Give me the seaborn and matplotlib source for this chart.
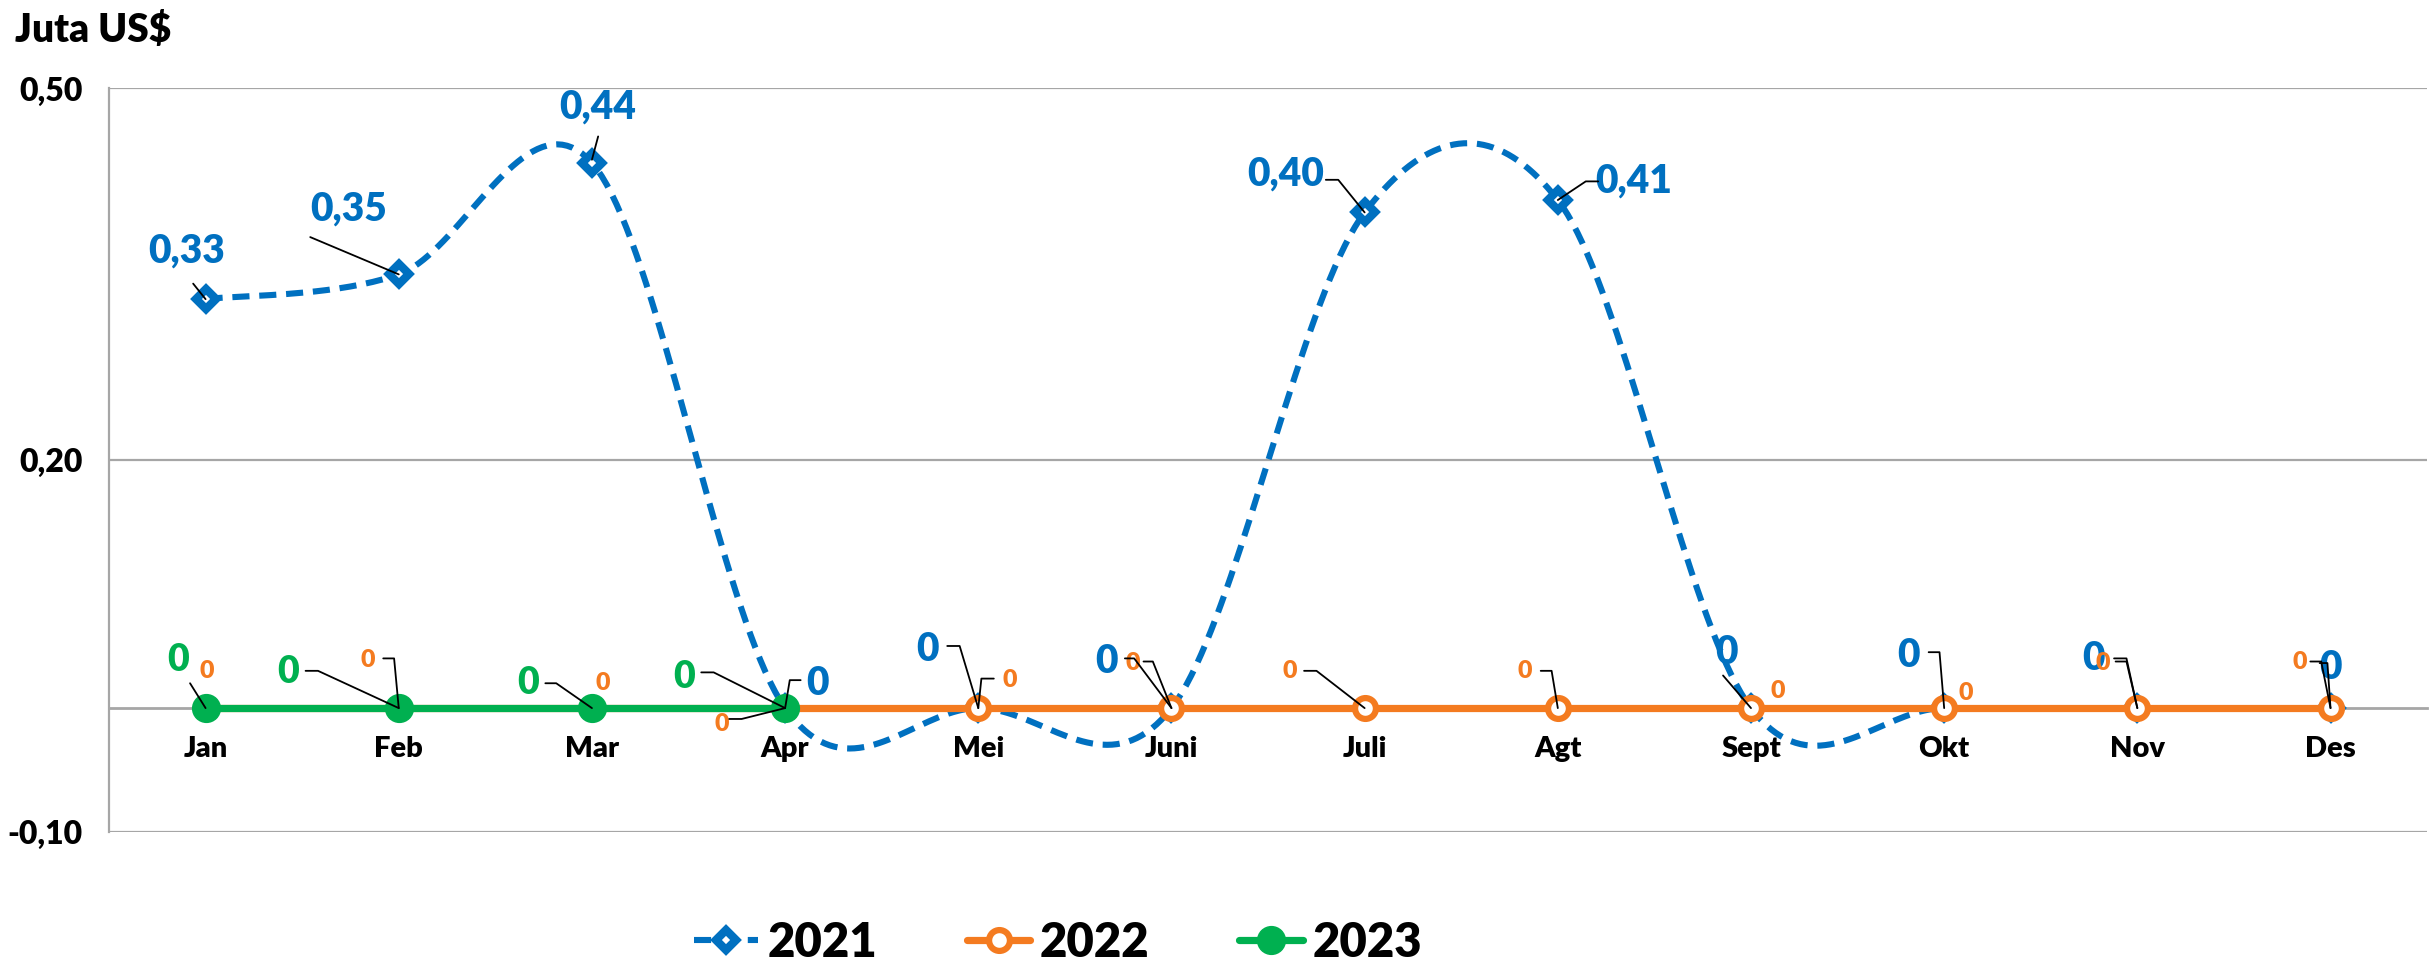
import numpy as np
import matplotlib
matplotlib.use('Agg')
import matplotlib.pyplot as plt
import seaborn as sns
from matplotlib.lines import Line2D
from matplotlib.transforms import IdentityTransform

# ---------------- data ----------------
months = ['Jan', 'Feb', 'Mar', 'Apr', 'Mei', 'Juni', 'Juli', 'Agt', 'Sept', 'Okt', 'Nov', 'Des']
v2021 = [0.33, 0.35, 0.44, 0, 0, 0, 0.40, 0.41, 0, 0, 0, 0]
v2022 = [0, 0, 0, 0, 0, 0, 0, 0, 0, 0, 0, 0]
v2023 = [0, 0, 0, 0]
series_names = ['2021', '2022', '2023']
yticks = [-0.10, 0.20, 0.50]
ytick_labels = ['-0,10', '0,20', '0,50']
unit_label = 'Juta US$'

BLUE = '#0070C0'
ORANGE = '#F47B20'
GREEN = '#00B050'
GRID = '#A6A6A6'
W = 'heavy'

sns.set_theme(style='white')
plt.rcParams['font.family'] = ['Lato', 'DejaVu Sans']
plt.rcParams['font.weight'] = W

S = 2435 / 1568.0  # reference-view px -> output px


def fmt(v):
    return '0' if v == 0 else f'{v:.2f}'.replace('.', ',')


def excel_smooth(y, n=40):
    pts = np.column_stack([np.arange(len(y)), y]).astype(float)
    N = len(pts)
    out = []
    t = np.linspace(0, 1, n)[:, None]
    for i in range(N - 1):
        p0 = pts[max(i - 1, 0)]
        p1 = pts[i]
        p2 = pts[i + 1]
        p3 = pts[min(i + 2, N - 1)]
        c1 = p1 + (p2 - p0) / 6
        c2 = p2 - (p3 - p1) / 6
        seg = (1 - t) ** 3 * p1 + 3 * (1 - t) ** 2 * t * c1 + 3 * (1 - t) * t ** 2 * c2 + t ** 3 * p2
        out.append(seg if i == 0 else seg[1:])
    return np.vstack(out)


fig = plt.figure(figsize=(24.35, 9.65), dpi=100)
ax = fig.add_axes([0.04476, 0.1378, 0.9520, 0.7705])

x_all = np.arange(len(months))

DIA = dict(marker='D', markersize=10.5, markerfacecolor='white', markeredgecolor=BLUE, markeredgewidth=6)
RING = dict(marker='o', markersize=15, markerfacecolor='white', markeredgecolor=ORANGE, markeredgewidth=4.5)
DOT = dict(marker='o', markersize=20, markerfacecolor=GREEN, markeredgecolor=GREEN, markeredgewidth=1)
DASH = (0, (2.8, 1.6))

# 2021 smoothed dashed line + diamond markers
sm = excel_smooth(v2021)
sns.lineplot(x=sm[:, 0], y=sm[:, 1], ax=ax, sort=False, estimator=None,
             color=BLUE, lw=4.4, linestyle=DASH, zorder=3)
sns.lineplot(x=x_all, y=v2021, ax=ax, sort=False, estimator=None, color=BLUE,
             linestyle='', zorder=4, **DIA)

# 2022 line
sns.lineplot(x=x_all, y=v2022, ax=ax, sort=False, estimator=None, color=ORANGE,
             lw=5.2, zorder=5, **RING)

# 2023 line
x23 = np.arange(len(v2023))
sns.lineplot(x=x23, y=v2023, ax=ax, sort=False, estimator=None, color=GREEN,
             lw=5.2, zorder=6, **DOT)

# axes styling
ax.set_xlim(-0.5, len(months) - 0.5)
ax.set_ylim(-0.10, 0.50)
ax.set_yticks(yticks)
ax.set_yticklabels(ytick_labels)
ax.set_xticks(x_all)
ax.set_xticklabels(months)
ax.set_xticks(np.arange(-0.5, len(months) + 0.5, 1), minor=True)
ax.tick_params(axis='x', which='major', length=0, pad=20, labelsize=21, labelcolor='black')
ax.tick_params(axis='x', which='minor', length=9, width=1.5, color=GRID, direction='out')
ax.tick_params(axis='y', which='major', length=9, width=1.5, color=GRID, direction='out',
               pad=10, labelsize=23, labelcolor='black')
for lab in ax.get_xticklabels() + ax.get_yticklabels():
    lab.set_fontweight(W)
ax.yaxis.grid(True, color=GRID, lw=1.6)
ax.xaxis.grid(False)
ax.set_axisbelow(True)
for s in ['top', 'right']:
    ax.spines[s].set_visible(False)
ax.spines['left'].set_color(GRID)
ax.spines['left'].set_linewidth(1.6)
ax.spines['bottom'].set_position(('data', 0))
ax.spines['bottom'].set_color(GRID)
ax.spines['bottom'].set_linewidth(2.0)
ax.spines['bottom'].set_zorder(1)
ax.set_xlabel('')
ax.set_ylabel('')

fig.text(15 / 2435, 1 - 31 / 965, unit_label, fontsize=28, fontweight=W,
         ha='left', va='center', color='black')

# ---------------- data labels (layout offsets in reference px, y down) ----------------
lab2021 = [
    ((-12, -31), [(-8, -10), (0, 0)]),
    ((-32, -42), [(-57, -24), (0, 0)]),
    ((4, -36), [(4, -17), (0, -2)]),
    ((21, -16), [(10, -18), (3, -18), (0, 0)]),
    ((-33, -38), [(-20, -40), (-12, -40), (0, 0)]),
    ((-42, -30), [(-30, -32), (-24, -32), (0, 0)]),
    ((-51, -25), [(-25, -21), (-17, -21), (0, 0)]),
    ((49, -12), [(26, -12), (18, -12), (0, 0)]),
    ((-16, -36), [(-18, -21), (0, 0)]),
    ((-23, -34), [(-10, -36), (-3, -36), (0, 0)]),
    ((-28, -32), [(-15, -32), (-7, -32), (0, 0)]),
    ((0, -26), [(-7, -29), (-2, -29), (0, 0)]),
]
lab2022 = [
    ((1, -24), None),
    ((-20, -31), [(-10, -32), (-3, -32), (0, 0)]),
    ((7, -16), None),
    ((-41, 10), [(-36, 7), (-28, 7), (0, 0)]),
    ((20, -18), [(10, -19), (2, -19), (0, 0)]),
    ((-25, -29), [(-18, -30), (-12, -30), (0, 0)]),
    ((-48, -24), [(-39, -24), (-31, -24), (0, 0)]),
    ((-21, -24), [(-11, -24), (-4, -24), (0, 0)]),
    ((17, -11), None),
    ((14, -10), None),
    ((-22, -29), [(-14, -30), (-7, -30), (0, 0)]),
    ((-20, -30), [(-13, -30), (-6, -30), (0, 0)]),
]
lab2023 = [
    ((-18, -31), [(-10, -16), (0, 0)]),
    ((-71, -23), [(-60, -24), (-52, -24), (0, 0)]),
    ((-41, -16), [(-30, -16), (-23, -16), (0, 0)]),
    ((-65, -20), [(-54, -23), (-46, -23), (0, 0)]),
]


def draw_labels(values, specs, color, size):
    for i, (v, (off, leader)) in enumerate(zip(values, specs)):
        ax.annotate(fmt(v), xy=(i, v), xytext=(off[0] * S, -off[1] * S),
                    textcoords='offset pixels', ha='center', va='center',
                    fontsize=size, fontweight=W, color=color, zorder=12)
        if leader:
            p = ax.transData.transform((i, v))
            xs = [p[0] + lx * S for lx, ly in leader]
            ys = [p[1] - ly * S for lx, ly in leader]
            fig.add_artist(Line2D(xs, ys, transform=IdentityTransform(),
                                  color='black', lw=1.3, zorder=11))


draw_labels(v2021, lab2021, BLUE, 28)
draw_labels(v2022, lab2022, ORANGE, 18)
draw_labels(v2023, lab2023, GREEN, 27)

# ---------------- legend ----------------
handles = [
    Line2D([0], [0], color=BLUE, lw=4.4, linestyle=DASH, **DIA),
    Line2D([0], [0], color=ORANGE, lw=5.2, **RING),
    Line2D([0], [0], color=GREEN, lw=5.2, **DOT),
]
leg = fig.legend(handles, series_names, loc='center', bbox_to_anchor=(0.4345, 0.023),
                 ncol=3, frameon=False, prop={'size': 34, 'weight': W},
                 handlelength=1.35, handletextpad=0.2, columnspacing=1.9)
for t in leg.get_texts():
    t.set_color('black')

fig.savefig('out.png', dpi=100)
